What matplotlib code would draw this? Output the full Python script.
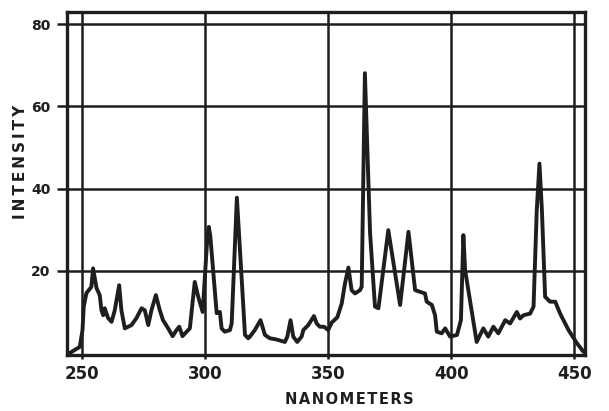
import matplotlib.pyplot as plt

# emission spectrum
nm = [245.1, 249.2, 250.3, 250.8, 251.9, 253.9, 254.6, 256.0, 257.3, 258.0,
      258.7, 259.3, 260.7, 262.1, 263.4, 265.2, 266.1, 267.5, 268.8, 270.2,
      272.2, 274.3, 275.6, 277.0, 278.3, 280.1, 281.7, 283.0, 285.1, 286.9,
      288.5, 289.6, 290.9, 292.6, 293.9, 295.9, 297.3, 299.1, 301.0, 301.6,
      302.2, 304.8, 306.1, 306.8, 308.1, 310.2, 310.9, 313.0, 316.3, 317.6,
      318.3, 320.3, 322.6, 324.4, 326.4, 329.1, 332.5, 333.5, 334.8, 335.9,
      337.5, 339.3, 340.0, 342.0, 344.3, 345.4, 346.7, 348.4, 350.1, 351.5,
      353.8, 355.6, 356.9, 358.3, 359.6, 361.0, 363.0, 363.7, 365.0, 367.1,
      369.1, 370.5, 374.5, 379.3, 382.7, 385.4, 387.4, 389.4, 390.1, 392.2,
      393.5, 394.2, 396.2, 397.6, 399.6, 402.4, 404.0, 405.0, 405.7, 410.4,
      413.1, 415.1, 417.2, 419.2, 422.0, 424.0, 426.7, 428.0, 429.4, 432.1,
      433.5, 434.8, 435.9, 436.9, 438.2, 440.2, 442.3, 444.3, 447.7, 451.1,
      453.8]
intensity = [0.0, 1.5, 5.6, 11.3, 14.6, 16.1, 20.6, 15.8, 14.1, 10.4,
             9.2, 10.9, 8.5, 7.6, 10.4, 16.5, 10.4, 6.0, 6.4, 6.8,
             8.5, 10.9, 10.4, 6.8, 10.4, 14.1, 10.4, 8.0, 6.0, 4.1,
             5.6, 6.4, 4.1, 5.2, 6.0, 17.3, 13.7, 10.0, 28.0, 30.7,
             28.5, 9.7, 10.0, 6.0, 5.2, 5.6, 7.3, 37.8, 4.4, 3.6,
             4.0, 5.6, 8.0, 4.4, 3.6, 3.3, 2.7, 4.0, 8.0, 4.0,
             2.7, 4.0, 5.6, 6.8, 9.0, 7.2, 6.4, 6.4, 5.6, 7.4,
             8.7, 12.1, 16.9, 20.8, 15.3, 14.5, 15.3, 16.1, 68.1, 29.2,
             11.3, 10.9, 29.9, 11.7, 29.5, 15.3, 14.9, 14.5, 12.5, 11.7,
             9.2, 5.2, 4.8, 6.0, 4.0, 4.4, 8.0, 28.7, 20.2, 2.7,
             6.0, 4.0, 6.4, 4.8, 8.0, 7.2, 10.0, 8.4, 9.2, 9.6,
             11.3, 34.7, 46.1, 34.7, 13.7, 12.5, 12.5, 9.6, 5.6, 2.4,
             0.3]

x_ticks = [250, 300, 350, 400, 450]
y_ticks = [20, 40, 60, 80]

ink = '#1e1e1e'

fig = plt.figure(figsize=(6.09, 4.11), dpi=100)
ax = fig.add_axes([0.110, 0.136, 0.851, 0.835])

ax.plot(nm, intensity, color=ink, lw=2.8, solid_joinstyle='round',
        solid_capstyle='round', zorder=3)

ax.set_xlim(244, 454.5)
ax.set_ylim(-0.5, 83)
ax.set_xticks(x_ticks)
ax.set_yticks(y_ticks)
ax.grid(True, color=ink, lw=1.8)
ax.set_axisbelow(True)

for s in ax.spines.values():
    s.set_color(ink)
    s.set_linewidth(2.4)

ax.tick_params(axis='y', length=7, width=1.8, color=ink, pad=5, labelsize=10)
ax.tick_params(axis='x', length=3, width=1.8, color=ink, pad=4, labelsize=12)
for lab in ax.get_xticklabels() + ax.get_yticklabels():
    lab.set_fontweight('bold')
    lab.set_color(ink)

# axis titles, letters spread with thin/hair spaces
fig.text(0.573, 0.027, '\u200a'.join('NANOMETERS'), fontsize=10.5,
         fontweight='bold', color=ink, ha='center', va='center')
fig.text(0.034, 0.606, '\u2009'.join('INTENSITY'), fontsize=11,
         fontweight='bold', color=ink, ha='center', va='center', rotation=90)

fig.savefig('out.png', dpi=100)
